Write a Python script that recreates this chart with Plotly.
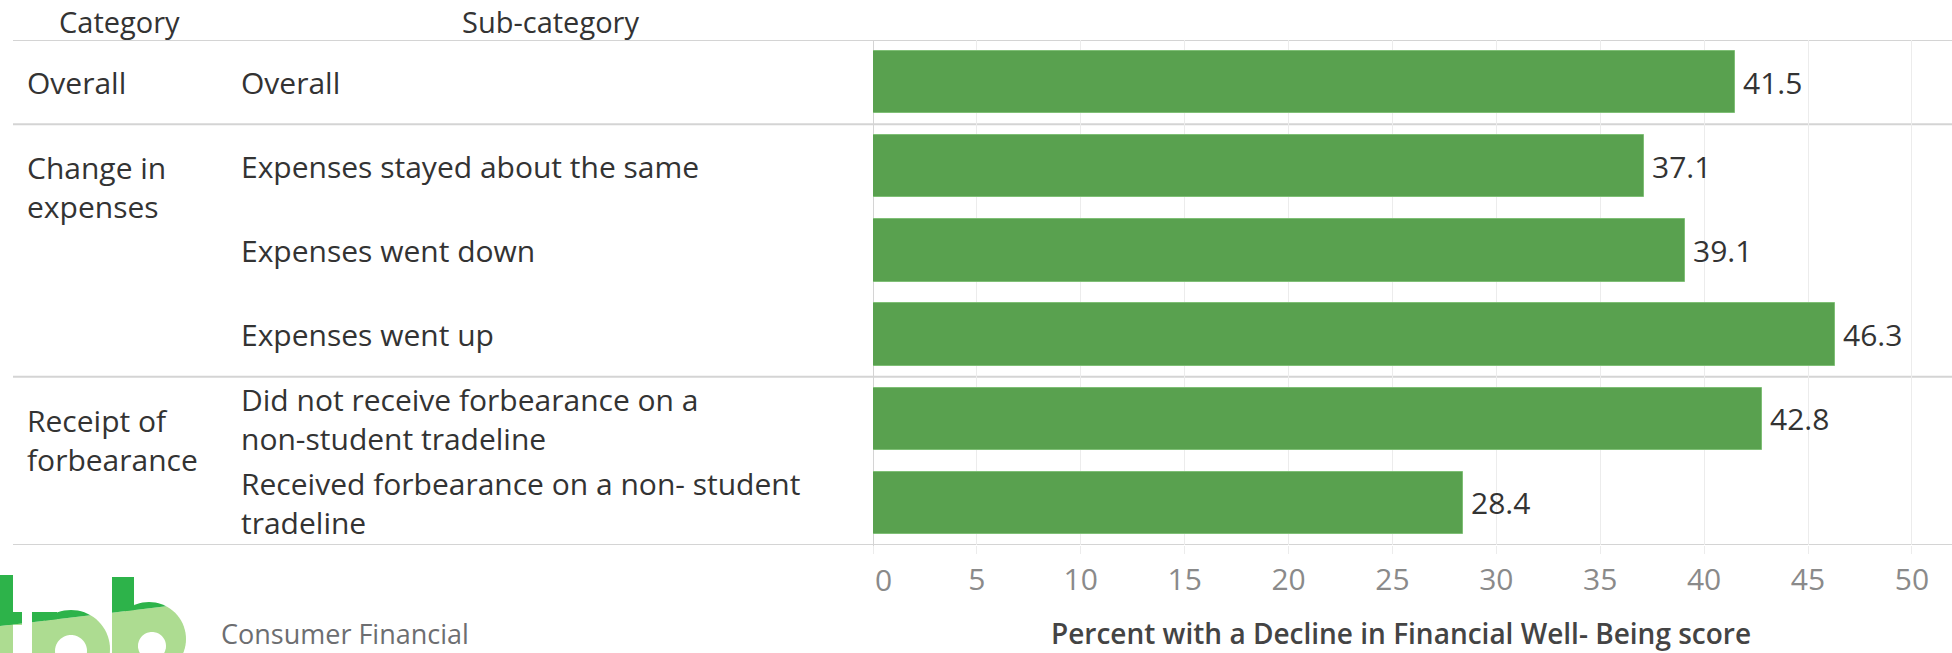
import numpy as np
import plotly.graph_objects as go

# ---- data ---------------------------------------------------------------
categories = ["Overall", "Change in<br>expenses", "Receipt of<br>forbearance"]
category_first_row = [0, 1, 4]
group_edges = [-0.5, 0.5, 3.5, 5.5]
subcategories = [
    "Overall",
    "Expenses stayed about the same",
    "Expenses went down",
    "Expenses went up",
    "Did not receive forbearance on a<br>non-student tradeline",
    "Received forbearance on a non- student<br>tradeline",
]
values = [41.5, 37.1, 39.1, 46.3, 42.8, 28.4]
tick_values = [0, 5, 10, 15, 20, 25, 30, 35, 40, 45, 50]
tick_labels = ["0", "5", "10", "15", "20", "25", "30", "35", "40", "45", "50"]
axis_title = "Percent with a Decline in Financial Well- Being score"

# ---- page geometry (pixels) ----------------------------------------------
W, H = 1952, 653
PLOT_LEFT, PLOT_TOP, PLOT_BOTTOM = 873, 40, 545
X_MAX = 51.93


def px(x):
    return x / W


def py(y):
    return 1 - y / H


FONT = "Open Sans"
DARK = "#333333"
BAR = "#59a14f"
SEP = "#d4d4d4"
GRID = "#ececec"

rows = list(range(len(values)))

fig = go.Figure()
fig.add_trace(
    go.Bar(
        x=values,
        y=rows,
        orientation="h",
        width=0.74,
        marker=dict(color=BAR, line=dict(color="#7fbf76", width=1)),
        hoverinfo="skip",
    )
)

annotations = []

# value labels at bar ends
for r, v in zip(rows, values):
    annotations.append(dict(
        x=v, y=r, xref="x", yref="y", text=f"{v:.1f}", showarrow=False,
        xanchor="left", yanchor="middle", xshift=6,
        font=dict(family=FONT, size=30, color=DARK),
    ))

# column headers
annotations.append(dict(
    x=px(119), y=py(21), xref="paper", yref="paper", text="Category",
    showarrow=False, xanchor="center", yanchor="middle",
    font=dict(family=FONT, size=29, color=DARK),
))
annotations.append(dict(
    x=px(550), y=py(21), xref="paper", yref="paper", text="Sub-category",
    showarrow=False, xanchor="center", yanchor="middle",
    font=dict(family=FONT, size=29, color=DARK),
))

# category labels (first line aligned with the group's first row)
for name, r in zip(categories, category_first_row):
    n_lines = name.count("<br>") + 1
    annotations.append(dict(
        x=px(25), y=r, xref="paper", yref="y", text=name, showarrow=False,
        xanchor="left", yanchor="middle", align="left",
        yshift=-(n_lines - 1) * 21,
        font=dict(family=FONT, size=30, color=DARK),
    ))

# sub-category labels
for name, r in zip(subcategories, rows):
    annotations.append(dict(
        x=px(239), y=r, xref="paper", yref="y", text=name, showarrow=False,
        xanchor="left", yanchor="middle", align="left",
        font=dict(family=FONT, size=30, color=DARK),
    ))

# first tick label sits just inside the pane
annotations.append(dict(
    x=0, y=py(579), xref="x", yref="paper", text=tick_labels[0],
    showarrow=False, xanchor="center", yanchor="middle", xshift=10,
    font=dict(family=FONT, size=30, color="#8a8a8a"),
))

# axis title
annotations.append(dict(
    x=px(1401), y=0, xref="paper", yref="paper", text=axis_title,
    showarrow=False, xanchor="center", yanchor="bottom", borderpad=0,
    font=dict(family=FONT, size=28, color="#444444", weight=600),
))

# logo caption
annotations.append(dict(
    x=px(220), y=0, xref="paper", yref="paper", text="Consumer Financial",
    showarrow=False, xanchor="left", yanchor="bottom", borderpad=0,
    font=dict(family=FONT, size=27, color="#6d6e71"),
))

shapes = []

# group separators across the whole table
for e in group_edges:
    shapes.append(dict(
        type="line", xref="paper", yref="y", x0=px(13), x1=1, y0=e, y1=e,
        line=dict(color=SEP, width=2), layer="below",
    ))

# pane divider / zero line
shapes.append(dict(
    type="line", xref="x", yref="paper", x0=0, x1=0, y0=py(PLOT_TOP), y1=py(553),
    line=dict(color=SEP, width=2), layer="below",
))


# ---- logo glyphs ---------------------------------------------------------
def rect(x0, y0, x1, y1):
    return [(x0, y0), (x1, y0), (x1, y1), (x0, y1)]


def circle(cx, cy, r, n=72):
    t = np.linspace(0, 2 * np.pi, n, endpoint=False)
    return list(zip(cx + r * np.cos(t), cy + r * np.sin(t)))


def clip(poly, below, a=626.0, b=-0.119):
    # keep the part of the polygon below (or above) the line y = a + b*x
    def inside(p):
        d = p[1] - (a + b * p[0])
        return d >= 0 if below else d <= 0

    def cross(p, q):
        dp = p[1] - (a + b * p[0])
        dq = q[1] - (a + b * q[0])
        t = dp / (dp - dq)
        return (p[0] + t * (q[0] - p[0]), p[1] + t * (q[1] - p[1]))

    out = []
    for i in range(len(poly)):
        cur, prev = poly[i], poly[i - 1]
        if inside(cur):
            if not inside(prev):
                out.append(cross(prev, cur))
            out.append(cur)
        elif inside(prev):
            out.append(cross(prev, cur))
    return out


def to_path(poly):
    pts = [f"{px(x):.5f},{py(y):.5f}" for x, y in poly]
    return "M " + " L ".join(pts) + " Z"


glyphs = [
    rect(0, 575, 13, 660),
    rect(0, 612, 22, 625),
    rect(32, 612, 57, 660),
    circle(71, 649, 39),
    rect(112, 577, 134, 660),
    circle(149, 639, 37),
]
for g in glyphs:
    for below, col in ((True, "#addc91"), (False, "#2db34a")):
        part = clip(g, below)
        if len(part) >= 3:
            shapes.append(dict(
                type="path", xref="paper", yref="paper", path=to_path(part),
                fillcolor=col, line=dict(width=0), layer="above",
            ))
for hole in (circle(71, 651, 16), circle(152, 646, 14)):
    shapes.append(dict(
        type="path", xref="paper", yref="paper", path=to_path(hole),
        fillcolor="white", line=dict(width=0), layer="above",
    ))

fig.update_layout(
    width=W,
    height=H,
    margin=dict(l=0, r=0, t=0, b=0, pad=0),
    paper_bgcolor="white",
    plot_bgcolor="white",
    showlegend=False,
    bargap=0,
    annotations=annotations,
    shapes=shapes,
    xaxis=dict(
        domain=[px(PLOT_LEFT), 1],
        range=[0, X_MAX],
        tickvals=tick_values,
        ticktext=[""] + tick_labels[1:],
        showgrid=True,
        gridcolor=GRID,
        gridwidth=1,
        zeroline=False,
        showline=False,
        ticks="outside",
        ticklen=8,
        tickwidth=1,
        tickcolor=GRID,
        tickfont=dict(family=FONT, size=30, color="#8a8a8a"),
        fixedrange=True,
    ),
    yaxis=dict(
        domain=[py(PLOT_BOTTOM), py(PLOT_TOP)],
        range=[5.5, -0.5],
        showticklabels=False,
        showgrid=False,
        zeroline=False,
        showline=False,
        fixedrange=True,
    ),
)

fig.write_html("out.html", config={"displayModeBar": False})
